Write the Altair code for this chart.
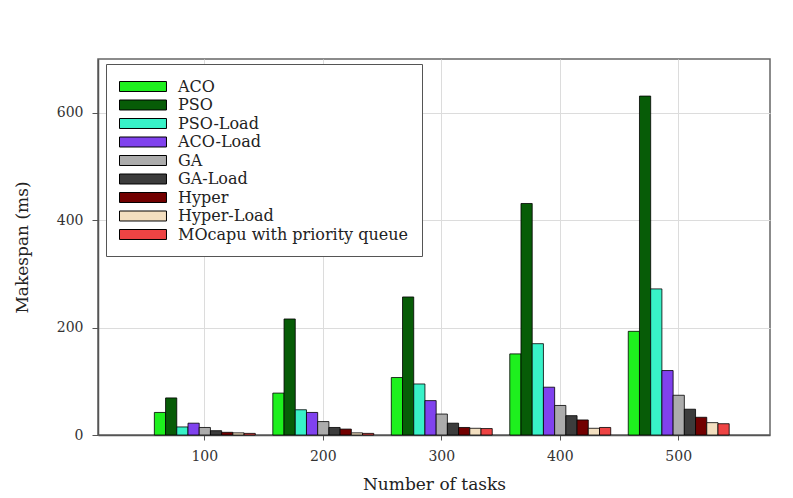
import altair as alt
import pandas as pd

tasks = [100, 200, 300, 400, 500]
series = ["ACO", "PSO", "PSO-Load", "ACO-Load", "GA", "GA-Load", "Hyper",
          "Hyper-Load", "MOcapu with priority queue"]
colors = ["#1ef01e", "#075c07", "#38f2c8", "#8042ee", "#acacac", "#3c3c3c",
          "#720000", "#f3dfc0", "#ee4444"]

aco = [42, 78, 107, 151, 193]
pso = [69, 216, 257, 431, 631]
pso_load = [15, 47, 95, 170, 272]
aco_load = [22, 42, 64, 89, 120]
ga = [14, 25, 39, 55, 74]
ga_load = [8, 14, 22, 36, 48]
hyper = [5, 11, 14, 28, 33]
hyper_load = [4, 4, 12.5, 12.5, 23]
mocapu = [3, 3, 12, 14, 21]

values = [aco, pso, pso_load, aco_load, ga, ga_load, hyper, hyper_load, mocapu]

rows = []
for s, vals in zip(series, values):
    for t, v in zip(tasks, vals):
        rows.append({"tasks": t, "series": s, "value": v})
df = pd.DataFrame(rows)

FONT = "DejaVu Serif"
sym = "M-1,-0.555H4.22V0.555H-1Z"

chart = alt.Chart(df).mark_bar(stroke="black", strokeWidth=0.8).encode(
    x=alt.X("tasks:O",
            scale=alt.Scale(paddingInner=0.148, paddingOuter=0.41, align=0.58),
            axis=alt.Axis(title="Number of tasks", labelAngle=0, grid=True,
                          tickSize=5, labelPadding=9, titlePadding=13)),
    xOffset=alt.XOffset("series:N", sort=series,
                        scale=alt.Scale(paddingInner=0, paddingOuter=0)),
    y=alt.Y("value:Q",
            scale=alt.Scale(domain=[0, 700], nice=False),
            axis=alt.Axis(title="Makespan (ms)", values=[0, 200, 400, 600],
                          grid=True, tickSize=6, labelPadding=9, titlePadding=25)),
    color=alt.Color("series:N", sort=series,
                    scale=alt.Scale(domain=series, range=colors),
                    legend=alt.Legend(orient="none", legendX=8, legendY=5,
                                      title=None, symbolType=sym, symbolSize=324,
                                      labelOffset=40, rowPadding=0.5, padding=13,
                                      strokeColor="#555", fillColor="white",
                                      labelFont=FONT, labelFontSize=16,
                                      labelColor="#222", labelLimit=500,
                                      labelExpr="datum.label + '\u00a0\u00a0\u00a0\u00a0'",
                                      symbolStrokeColor="black",
                                      symbolStrokeWidth=1, symbolOpacity=1)),
).properties(
    width=672, height=376,
    autosize=alt.AutoSizeParams(type="none"),
    padding={"left": 90, "top": 51, "right": 15, "bottom": 60},
).configure_view(
    stroke="#666", strokeWidth=1.5
).configure_axis(
    labelFont=FONT, labelFontSize=14, labelColor="#333",
    titleFont=FONT, titleFontSize=17, titleFontWeight="normal", titleColor="#222",
    domainColor="#555", domainWidth=1.5, tickColor="#555",
    gridColor="#dcdcdc", gridWidth=1
)

chart.save("out.html", embed_options={"renderer": "svg", "actions": False})
